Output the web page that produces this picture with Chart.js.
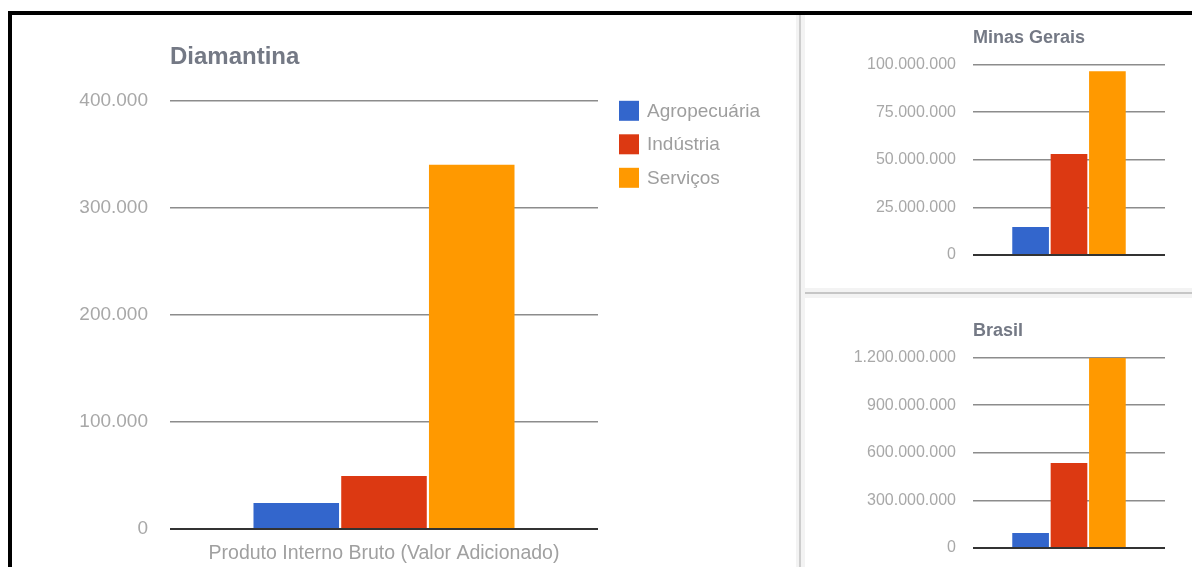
<!DOCTYPE html>
<html>
<head>
<meta charset="utf-8">
<script src="https://cdn.jsdelivr.net/npm/chart.js@4"></script>
<style>
  html, body { margin: 0; padding: 0; background: #fff; }
  body { width: 1192px; height: 567px; position: relative; overflow: hidden; font-family: "Liberation Sans", Arial, sans-serif; }
  .frame { position: absolute; left: 8px; top: 11px; width: 1200px; height: 600px; border-top: 4px solid #000; border-left: 4px solid #000; }
  .vsep { position: absolute; left: 796px; top: 15px; width: 9px; height: 552px; background: #f3f3f3; }
  .vsep::after { content: ""; position: absolute; left: 3px; top: 0; width: 2px; height: 100%; background: #cdcdcd; }
  .hsep { position: absolute; left: 805px; top: 288px; width: 387px; height: 10px; background: #f3f3f3; }
  .hsep::after { content: ""; position: absolute; left: 0; top: 4px; width: 100%; height: 2px; background: #c6c6c6; }
  canvas { position: absolute; }
  #main { left: 12px; top: 15px; }
  #mg { left: 803px; top: 15px; }
  #br { left: 803px; top: 296px; }
</style>
</head>
<body>
<div class="frame"></div>
<div class="vsep"></div>
<div class="hsep"></div>
<canvas id="main" width="785" height="552"></canvas>
<canvas id="mg" width="389" height="276"></canvas>
<canvas id="br" width="389" height="271"></canvas>
<script>
// PIB por setor (valor adicionado)
const categories = ['Produto Interno Bruto (Valor Adicionado)'];
const sectors = ['Agropecuária', 'Indústria', 'Serviços'];
const sectorColors = ['#3366cc', '#dc3912', '#ff9900'];

const diamantina = [24300, 49500, 340200];
const minasGerais = [14700000, 53000000, 96500000];
const brasil = [94700000, 535000000, 1198000000];

const diamantinaTicks = [0, 100000, 200000, 300000, 400000];
const minasTicks = [0, 25000000, 50000000, 75000000, 100000000];
const brasilTicks = [0, 300000000, 600000000, 900000000, 1200000000];

const FONT = '"Liberation Sans", Arial, sans-serif';

function fmt(v) {
  return String(v).replace(/\B(?=(\d{3})+(?!\d))/g, '.');
}

// legenda desenhada ao lado da área do gráfico
const sideLegend = {
  id: 'sideLegend',
  afterDraw(chart, args, opts) {
    if (!opts.show) return;
    const ctx = chart.ctx;
    const area = chart.chartArea;
    ctx.save();
    ctx.font = '19px ' + FONT;
    ctx.textBaseline = 'middle';
    chart.data.datasets.forEach((ds, i) => {
      const x = area.right + 21;
      const y = area.top + i * 33.5;
      ctx.fillStyle = ds.backgroundColor;
      ctx.fillRect(x, y, 20, 20);
      ctx.fillStyle = '#9e9e9e';
      ctx.fillText(ds.label, x + 28, y + 10.5);
    });
    ctx.restore();
  }
};

function makeChart(id, values, ticks, cfg) {
  const datasets = sectors.map((s, i) => ({
    label: s,
    data: [values[i]],
    backgroundColor: sectorColors[i],
    borderWidth: 0,
    categoryPercentage: cfg.catPct,
    barPercentage: cfg.barPct
  }));

  return new Chart(document.getElementById(id), {
    type: 'bar',
    data: { labels: categories, datasets: datasets },
    plugins: [sideLegend],
    options: {
      responsive: false,
      animation: false,
      layout: { padding: { left: 0, right: cfg.padRight, top: 0, bottom: 0 } },
      plugins: {
        legend: { display: false },
        tooltip: { enabled: false },
        sideLegend: { show: cfg.legend },
        title: {
          display: true,
          text: cfg.title,
          align: 'start',
          fullSize: false,
          color: '#747985',
          font: { family: FONT, size: cfg.titleSize, weight: 'bold', lineHeight: 1.2 },
          padding: { top: cfg.titleTop, bottom: cfg.titleBottom }
        }
      },
      scales: {
        x: {
          grid: { display: false, drawTicks: false },
          border: { display: false },
          ticks: {
            display: cfg.xLabels,
            color: '#a0a0a0',
            padding: 13,
            font: { family: FONT, size: 19.5 }
          },
          afterFit(scale) { scale.height = cfg.xHeight; }
        },
        y: {
          min: ticks[0],
          max: ticks[ticks.length - 1],
          afterBuildTicks(scale) { scale.ticks = ticks.map(v => ({ value: v })); },
          grid: {
            drawTicks: false,
            color: c => c.tick.value === 0 ? '#333333' : '#8c8c8c',
            lineWidth: c => c.tick.value === 0 ? 2 : 1.5
          },
          border: { display: false },
          ticks: {
            color: '#a8a8a8',
            padding: cfg.tickPad,
            font: { family: FONT, size: cfg.tickSize },
            callback: v => fmt(v)
          },
          afterFit(scale) {
            scale.width = cfg.yWidth;
            // os rótulos cabem nas margens, sem reservar espaço extra
            scale.paddingTop = 0;
            scale.paddingBottom = 0;
          }
        }
      }
    }
  });
}

makeChart('main', diamantina, diamantinaTicks, {
  title: 'Diamantina', titleSize: 24, titleTop: 28, titleBottom: 29,
  padRight: 199, yWidth: 158, tickPad: 22, tickSize: 19,
  xHeight: 38, xLabels: true, legend: true,
  catPct: 0.615, barPct: 0.975
});

makeChart('mg', minasGerais, minasTicks, {
  title: 'Minas Gerais', titleSize: 18, titleTop: 12, titleBottom: 16,
  padRight: 27, yWidth: 170, tickPad: 17, tickSize: 16,
  xHeight: 36, xLabels: false, legend: false,
  catPct: 0.6, barPct: 0.955
});

makeChart('br', brasil, brasilTicks, {
  title: 'Brasil', titleSize: 18, titleTop: 24, titleBottom: 16,
  padRight: 27, yWidth: 170, tickPad: 17, tickSize: 16,
  xHeight: 19, xLabels: false, legend: false,
  catPct: 0.6, barPct: 0.955
});
</script>
</body>
</html>
